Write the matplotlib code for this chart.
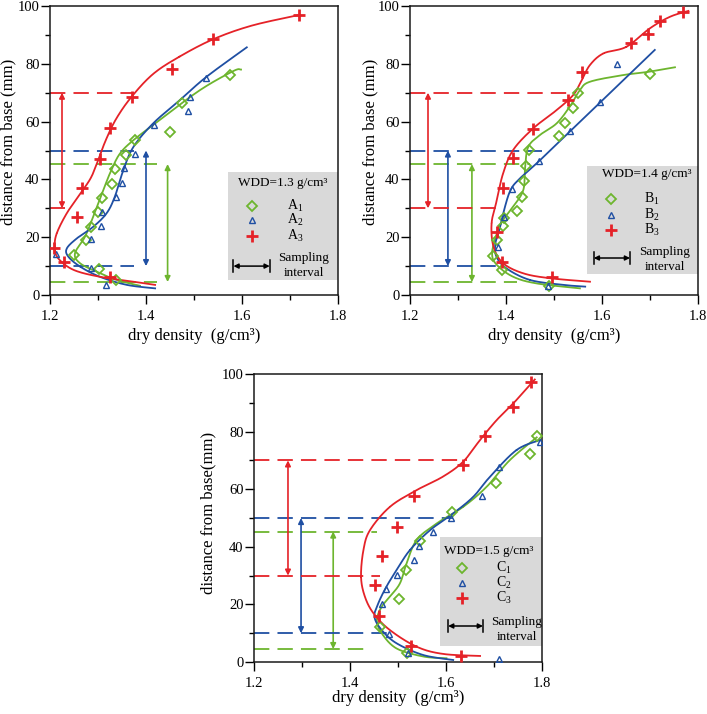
import numpy as np
import matplotlib
matplotlib.use('Agg')
import matplotlib.pyplot as plt
from matplotlib.patches import Rectangle

plt.rcParams['font.family'] = ['Liberation Serif', 'DejaVu Serif']
plt.rcParams['mathtext.fontset'] = 'custom'
plt.rcParams['mathtext.rm'] = 'Liberation Serif'
plt.rcParams['mathtext.it'] = 'Liberation Serif:italic'

RED = '#e52228'
BLUE = '#1f4fa3'
GREEN = '#6db52e'

# ---------------- Panel A (WDD = 1.3) ----------------
A1_x = [1.575, 1.476, 1.450, 1.377, 1.358, 1.335, 1.329, 1.308, 1.299, 1.285, 1.276, 1.250, 1.302, 1.337]
A1_y = [76.0, 66.4, 56.5, 53.6, 48.6, 43.5, 38.4, 33.4, 28.6, 23.6, 19.0, 13.8, 8.9, 5.2]
A2_x = [1.524, 1.492, 1.488, 1.417, 1.378, 1.354, 1.350, 1.338, 1.309, 1.306, 1.285, 1.213, 1.285, 1.317]
A2_y = [75.2, 68.6, 63.7, 58.8, 48.8, 43.8, 38.8, 33.8, 28.8, 23.9, 19.3, 14.2, 9.2, 3.5]
A3_x = [1.719, 1.540, 1.455, 1.370, 1.325, 1.305, 1.267, 1.256, 1.208, 1.230, 1.325]
A3_y = [96.9, 88.5, 78.3, 68.4, 57.8, 47.2, 36.9, 26.9, 16.4, 11.3, 6.3]
# fitted curves (control points)
A1c_x = [1.598, 1.582, 1.5125, 1.429, 1.374, 1.346, 1.328, 1.311, 1.290, 1.273, 1.252, 1.2625, 1.297, 1.339, 1.3875]
A1c_y = [78.0, 77.5, 70.9, 60.6, 53.6, 49.0, 43.3, 36.3, 27.1, 20.2, 14.4, 11.0, 8.1, 5.2, 3.2]
A2c_x = [1.61, 1.526, 1.471, 1.415, 1.374, 1.353, 1.335, 1.318, 1.290, 1.256, 1.235, 1.238, 1.263, 1.304, 1.36, 1.419]
A2c_y = [85.7, 75.5, 67.5, 59.4, 51.3, 43.3, 34.0, 28.3, 23.6, 19.6, 16.1, 13.3, 9.8, 6.3, 3.5, 2.3]
A3c_x = [1.719, 1.620, 1.540, 1.470, 1.415, 1.370, 1.338, 1.316, 1.300, 1.285, 1.262, 1.235, 1.214, 1.210, 1.217, 1.249, 1.304, 1.374, 1.419]
A3c_y = [96.9, 93.2, 88.5, 82.5, 76.5, 68.6, 61.0, 53.5, 46.5, 40.5, 34.8, 28.3, 21.3, 16.7, 12.7, 8.7, 6.3, 4.6, 3.5]

# ---------------- Panel B (WDD = 1.4) ----------------
B1_x = [1.701, 1.551, 1.540, 1.523, 1.511, 1.448, 1.441, 1.4375, 1.433, 1.422, 1.3965, 1.393, 1.381, 1.372, 1.392, 1.490]
B1_y = [76.5, 70.0, 64.8, 59.6, 55.1, 50.2, 44.8, 39.6, 34.0, 29.1, 26.8, 24.0, 19.0, 13.6, 8.7, 3.1]
B2_x = [1.631, 1.596, 1.533, 1.469, 1.413, 1.3965, 1.383, 1.488]
B2_y = [79.9, 66.8, 56.7, 46.5, 36.6, 26.9, 16.5, 3.1]
B3_x = [1.769, 1.721, 1.6965, 1.660, 1.559, 1.530, 1.457, 1.415, 1.394, 1.381, 1.391, 1.4965]
B3_y = [97.8, 94.9, 90.2, 87.1, 77.0, 67.5, 57.4, 47.3, 36.9, 21.7, 11.3, 6.3]
B1c_x = [1.752, 1.700, 1.644, 1.575, 1.554, 1.533, 1.5056, 1.471, 1.4465, 1.440, 1.436, 1.415, 1.394, 1.381, 1.371, 1.381, 1.415, 1.464, 1.554]
B1c_y = [78.8, 77.3, 76.1, 73.8, 70.9, 65.2, 59.4, 55.4, 51.3, 44.4, 36.3, 30.6, 26.0, 21.3, 14.4, 10.4, 6.3, 4.0, 2.3]
B2c_x = [1.710, 1.650, 1.596, 1.533, 1.470, 1.430, 1.410, 1.397, 1.388, 1.378, 1.380, 1.401, 1.450, 1.519, 1.565]
B2c_y = [84.8, 75.2, 66.6, 56.6, 46.5, 40.5, 36.5, 30.0, 23.6, 17.9, 13.3, 9.2, 5.2, 3.5, 2.9]
B3c_x = [1.780, 1.742, 1.700, 1.651, 1.603, 1.575, 1.558, 1.540, 1.5056, 1.457, 1.415, 1.394, 1.381, 1.370, 1.374, 1.394, 1.436, 1.4917, 1.575]
B3c_y = [98.3, 96.3, 92.3, 85.9, 83.6, 79.6, 74.4, 69.2, 64.0, 57.7, 50.2, 42.1, 32.9, 24.8, 16.7, 11.0, 7.5, 5.8, 4.6]

# ---------------- Panel C (WDD = 1.5) ----------------
C1_x = [1.790, 1.775, 1.7035, 1.613, 1.546, 1.516, 1.502, 1.4625, 1.519]
C1_y = [78.5, 72.1, 62.0, 52.0, 42.1, 31.9, 22.0, 12.3, 3.2]
C2_x = [1.796, 1.7104, 1.674, 1.610, 1.5736, 1.544, 1.533, 1.497, 1.475, 1.466, 1.481, 1.520, 1.7104]
C2_y = [76.5, 67.6, 57.8, 50.1, 45.1, 40.4, 35.3, 30.3, 25.2, 20.1, 9.7, 3.2, 1.2]
C3_x = [1.778, 1.740, 1.681, 1.636, 1.534, 1.497, 1.467, 1.453, 1.460, 1.527, 1.6306]
C3_y = [97.1, 88.4, 78.5, 68.4, 57.8, 47.0, 36.9, 26.7, 16.0, 5.7, 2.1]
C1c_x = [1.789, 1.733, 1.685, 1.636, 1.5806, 1.539, 1.518, 1.504, 1.483, 1.466, 1.456, 1.466, 1.497, 1.553, 1.601]
C1c_y = [78.0, 70.1, 60.9, 53.9, 48.1, 42.4, 34.3, 27.3, 22.7, 19.2, 14.6, 10.0, 4.7, 1.9, 1.3]
C2c_x = [1.796, 1.747, 1.692, 1.657, 1.615, 1.567, 1.525, 1.497, 1.476, 1.459, 1.451, 1.466, 1.497, 1.553, 1.615]
C2c_y = [77.1, 73.6, 64.4, 57.4, 51.6, 45.8, 38.9, 31.9, 26.2, 20.4, 15.7, 11.1, 6.5, 2.4, 0.7]
C3c_x = [1.785, 1.747, 1.7056, 1.671, 1.636, 1.594, 1.539, 1.4833, 1.4417, 1.428, 1.423, 1.431, 1.449, 1.483, 1.539, 1.594, 1.671]
C3c_y = [98.1, 91.0, 84.0, 77.1, 69.6, 64.4, 59.7, 53.9, 45.8, 38.9, 29.6, 22.7, 16.9, 11.1, 5.3, 2.8, 2.1]

# sampling intervals (bottom, top) for series 1, 2, 3
interval_1 = (4.5, 45.3)
interval_2 = (10.0, 50.0)
interval_3 = (30.0, 70.0)

x_ticks = [1.2, 1.4, 1.6, 1.8]
y_ticks = [0, 20, 40, 60, 80, 100]


def catmull(xs, ys, n=24):
    P = np.column_stack([xs, ys]).astype(float)
    P = np.vstack([P[0], P, P[-1]])
    out = []
    for i in range(1, len(P) - 2):
        p0, p1, p2, p3 = P[i - 1], P[i], P[i + 1], P[i + 2]
        t = np.linspace(0, 1, n)[:, None]
        seg = 0.5 * (2 * p1 + (-p0 + p2) * t + (2 * p0 - 5 * p1 + 4 * p2 - p3) * t ** 2
                     + (-p0 + 3 * p1 - 3 * p2 + p3) * t ** 3)
        out.append(seg)
    out = np.vstack(out)
    return out[:, 0], out[:, 1]


panels = [
    dict(rect=(50, 338, 6, 295), wdd='1.3', letter='A',
         pts=[(A1_x, A1_y), (A2_x, A2_y), (A3_x, A3_y)],
         curves=[(A1c_x, A1c_y), (A2c_x, A2c_y), (A3c_x, A3c_y)],
         dash_end=[(1.422, 1.422), (1.374, 1.374), (1.231, 1.374)],
         arrow_x=[1.445, 1.400, 1.225],
         ylabel='distance from base (mm)', ylc=(-0.144, 0.53), xlc=(0.5, -0.142),
         leg=dict(box=(0.618, 0.052, 0.382, 0.374), title=(0.808, 0.388), mx=0.702, lx=0.85,
                  rows=(0.308, 0.26, 0.204), arr=(0.637, 0.763, 0.10), stxt=(0.882, 0.128, 0.076))),
    dict(rect=(410, 698, 6, 295), wdd='1.4', letter='B',
         pts=[(B1_x, B1_y), (B2_x, B2_y), (B3_x, B3_y)],
         curves=[(B1c_x, B1c_y), (B2c_x, B2c_y), (B3c_x, B3c_y)],
         dash_end=[(1.422, 1.45), (1.38, 1.475), (1.381, 1.533)],
         arrow_x=[1.329, 1.279, 1.2375],
         ylabel='distance from base (mm)', ylc=(-0.139, 0.53), xlc=(0.5, -0.142),
         leg=dict(box=(0.615, 0.073, 0.385, 0.373), title=(0.823, 0.419), mx=0.698, lx=0.84,
                  rows=(0.332, 0.277, 0.225), arr=(0.638, 0.764, 0.128), stxt=(0.885, 0.149, 0.097))),
    dict(rect=(254, 542, 374, 662), wdd='1.5', letter='C',
         pts=[(C1_x, C1_y), (C2_x, C2_y), (C3_x, C3_y)],
         curves=[(C1c_x, C1c_y), (C2c_x, C2c_y), (C3c_x, C3c_y)],
         dash_end=[(1.44, 1.456), (1.483, 1.615), (1.4625, 1.644)],
         arrow_x=[1.365, 1.298, 1.2708],
         ylabel='distance from base(mm)', ylc=(-0.16, 0.517), xlc=(0.5, -0.125),
         leg=dict(box=(0.646, 0.056, 0.354, 0.378), title=(0.816, 0.385), mx=0.722, lx=0.866,
                  rows=(0.326, 0.274, 0.222), arr=(0.674, 0.795, 0.125), stxt=(0.913, 0.139, 0.087))),
]

colors = [GREEN, BLUE, RED]
markers = [dict(marker='D', ms=4.8, mfc='none', mew=1.3),
           dict(marker='^', ms=4.8, mfc='none', mew=1.0),
           dict(marker='+', ms=9, mew=2.0)]
intervals = [interval_1, interval_2, interval_3]

W, H = 707, 714
fig = plt.figure(figsize=(W / 100, H / 100), dpi=100)

for p in panels:
    l, r, t, b = p['rect']
    ax = fig.add_axes([l / W, 1 - b / H, (r - l) / W, (b - t) / H])
    ax.set_xlim(1.2, 1.8)
    ax.set_ylim(0, 100)
    ax.set_xticks(x_ticks)
    ax.set_yticks(y_ticks)
    ax.set_xticks([1.3, 1.5, 1.7], minor=True)
    ax.set_yticks([10, 30, 50, 70, 90], minor=True)
    ax.set_xticklabels([f'{v:.1f}' for v in x_ticks])
    ax.tick_params(which='major', direction='out', length=6.5, width=1.0, labelsize=10.5)
    ax.tick_params(which='minor', direction='out', length=3.5, width=1.0)
    ax.tick_params(axis='x', which='major', pad=4)
    ax.tick_params(axis='y', which='major', pad=1)
    for s in ax.spines.values():
        s.set_linewidth(1.1)
        s.set_color('#1a1a1a')
    ax.set_ylabel(p['ylabel'], fontsize=12, va='center', ha='center')
    ax.yaxis.set_label_coords(*p['ylc'])
    ax.set_xlabel('dry density  (g/cm\u00b3)', fontsize=12, va='center', ha='center')
    ax.xaxis.set_label_coords(*p['xlc'])

    # dashed interval lines and arrows
    for k in range(3):
        lo, hi = intervals[k]
        e_lo, e_hi = p['dash_end'][k]
        ax.plot([1.2, e_lo], [lo, lo], color=colors[k], lw=1.3, dashes=(8.5, 4.5), zorder=2)
        ax.plot([1.2, e_hi], [hi, hi], color=colors[k], lw=1.3, dashes=(8.5, 4.5), zorder=2)
        ax.annotate('', xy=(p['arrow_x'][k], lo), xytext=(p['arrow_x'][k], hi),
                    arrowprops=dict(arrowstyle='<|-|>', color=colors[k], lw=1.2,
                                    mutation_scale=8, shrinkA=0, shrinkB=0), zorder=2)

    # curves and points
    for k in range(3):
        cx, cy = catmull(*p['curves'][k])
        ax.plot(cx, cy, color=colors[k], lw=1.3, zorder=3)
    for k in range(3):
        px, py = p['pts'][k]
        ax.plot(px, py, ls='none', color=colors[k], zorder=4, **markers[k])

    # legend
    lg = p['leg']
    bx, by, bw, bh = lg['box']
    ax.add_patch(Rectangle((bx, by), bw, bh, transform=ax.transAxes, facecolor='#d9d9d9',
                           edgecolor='none', zorder=1))
    ax.text(lg['title'][0], lg['title'][1], f"WDD={p['wdd']} g/cm\u00b3", transform=ax.transAxes,
            ha='center', va='center', fontsize=9.5, zorder=5)
    for k in range(3):
        ax.plot([lg['mx']], [lg['rows'][k]], transform=ax.transAxes, ls='none', color=colors[k],
                zorder=5, **markers[k])
        ax.text(lg['lx'], lg['rows'][k], r'$\mathrm{%s}_{%d}$' % (p['letter'], k + 1),
                transform=ax.transAxes, ha='center', va='center', fontsize=10, zorder=5)
    x0, x1, ya = lg['arr']
    ax.annotate('', xy=(x0, ya), xytext=(x1, ya), xycoords='axes fraction',
                arrowprops=dict(arrowstyle='<|-|>', color='black', lw=1.1, mutation_scale=7,
                                shrinkA=0, shrinkB=0), zorder=5)
    for xx in (x0, x1):
        ax.plot([xx, xx], [ya - 0.022, ya + 0.022], transform=ax.transAxes, color='black', lw=1.1, zorder=5)
    sx, sy1, sy2 = lg['stxt']
    ax.text(sx, sy1, 'Sampling', transform=ax.transAxes, ha='center', va='center', fontsize=9.5, zorder=5)
    ax.text(sx, sy2, 'interval', transform=ax.transAxes, ha='center', va='center', fontsize=9.5, zorder=5)

fig.savefig('out.png', dpi=100)
